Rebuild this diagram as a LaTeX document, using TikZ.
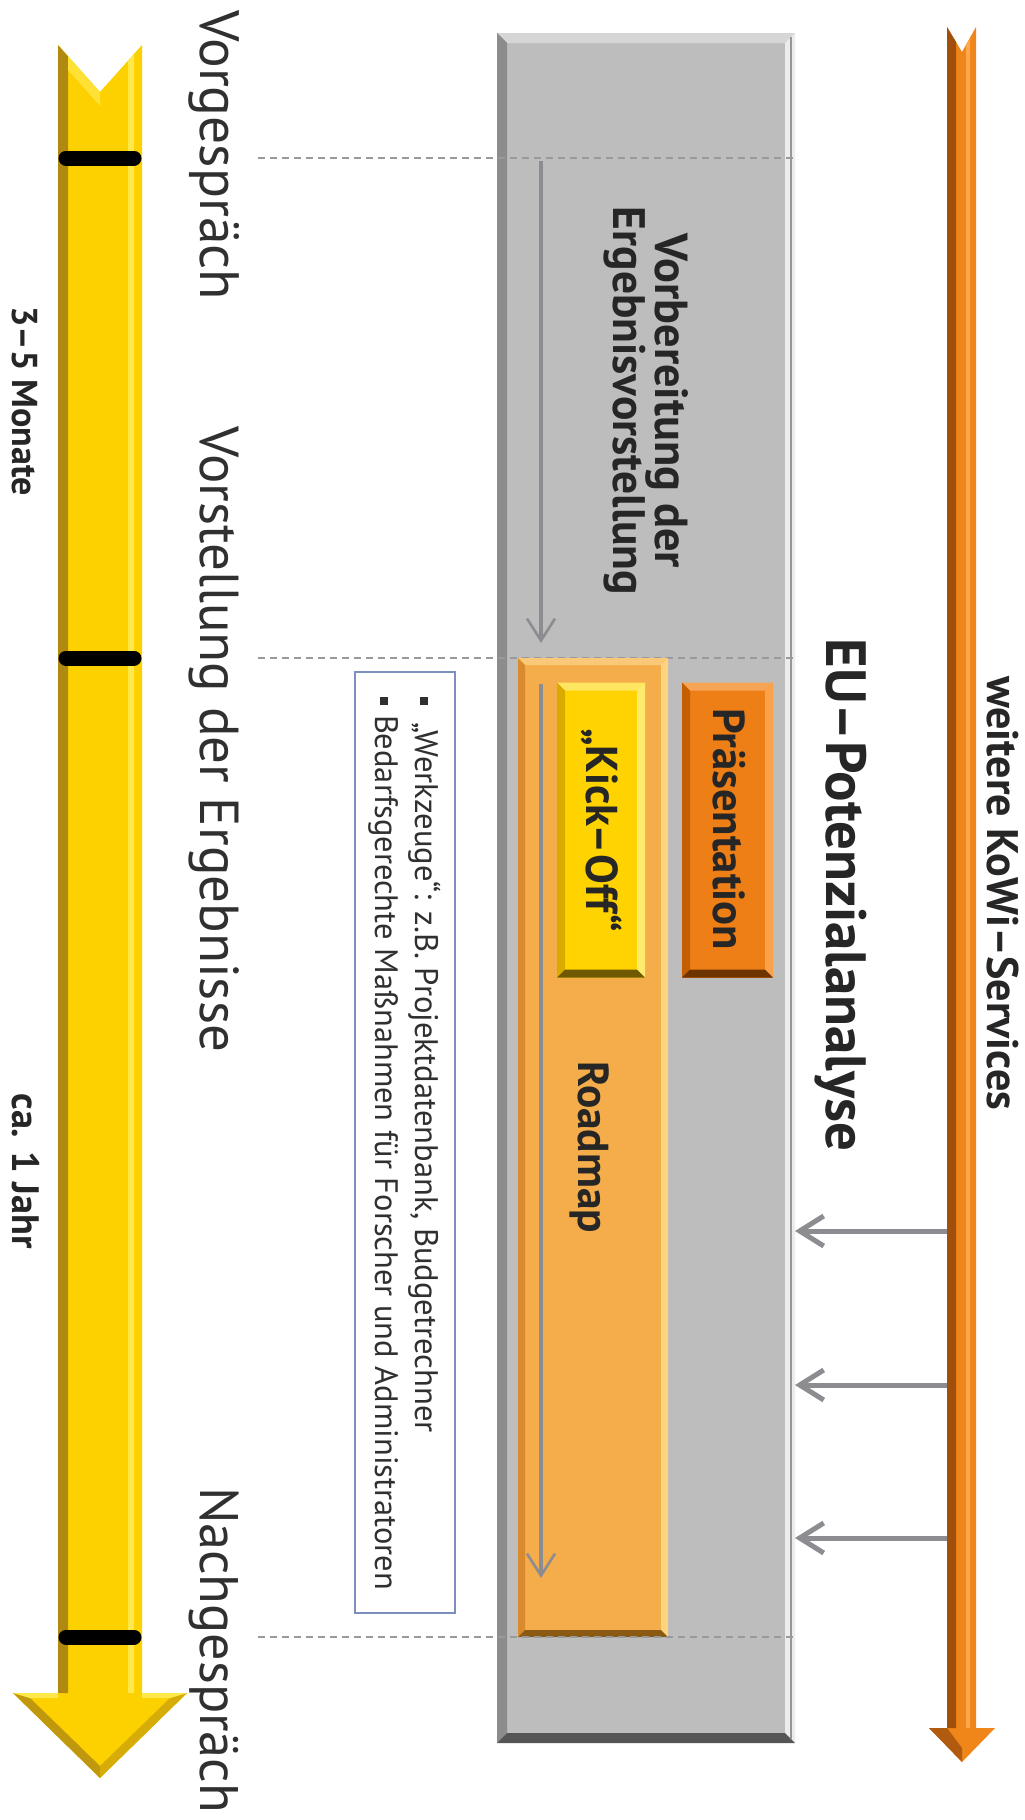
\documentclass[tikz,border=0pt]{standalone}
\usepackage{fontspec}
\setmainfont{PT Sans}
\usetikzlibrary{arrows.meta,calc}
\definecolor{txt}{HTML}{303030}
\definecolor{btxt}{HTML}{262626}
\definecolor{yMain}{HTML}{FDD000}
\definecolor{yDark}{HTML}{B08A10}
\definecolor{yLight}{HTML}{FFE84A}
\definecolor{oMain}{HTML}{F08519}
\definecolor{oDark}{HTML}{A0500C}
\definecolor{oLight}{HTML}{FFA84C}
\definecolor{gFill}{HTML}{BDBDBD}
\definecolor{gTop}{HTML}{D6D6D6}
\definecolor{gLeft}{HTML}{8C8C8C}
\definecolor{gRight}{HTML}{ECECEC}
\definecolor{gBot}{HTML}{555555}
\definecolor{rFill}{HTML}{F5AD4B}
\definecolor{rTop}{HTML}{F9C878}
\definecolor{rLeft}{HTML}{D88A2C}
\definecolor{rRight}{HTML}{FFD47E}
\definecolor{rBot}{HTML}{8A5A12}
\definecolor{kFill}{HTML}{FFD300}
\definecolor{kTop}{HTML}{FFE660}
\definecolor{kLeft}{HTML}{D9AA00}
\definecolor{kRight}{HTML}{FFEA70}
\definecolor{kBot}{HTML}{6E5800}
\definecolor{pFill}{HTML}{EE7E16}
\definecolor{pTop}{HTML}{F6A456}
\definecolor{pLeft}{HTML}{C45E00}
\definecolor{pRight}{HTML}{F9A24A}
\definecolor{pBot}{HTML}{6E3400}
\definecolor{arrGrey}{HTML}{8C8C91}
\definecolor{dashGrey}{HTML}{9A9A9A}
\definecolor{infoBorder}{HTML}{7C8FBF}
\newcommand\bevelit[6]{%
  \fill[#3] (#1.north west) -- (#1.north east) -- ($(#1.north east)+(-#2,#2)$) -- ($(#1.north west)+(#2,#2)$) -- cycle;
  \fill[#4] (#1.north west) -- ($(#1.north west)+(#2,#2)$) -- ($(#1.south west)+(#2,-#2)$) -- (#1.south west) -- cycle;
  \fill[#5] (#1.north east) -- ($(#1.north east)+(-#2,#2)$) -- ($(#1.south east)+(-#2,-#2)$) -- (#1.south east) -- cycle;
  \fill[#6] (#1.south west) -- ($(#1.south west)+(#2,-#2)$) -- ($(#1.south east)+(-#2,-#2)$) -- (#1.south east) -- cycle;
}
\newcommand\fitto[2]{\resizebox{#1pt}{!}{#2}}
\begin{document}
\begin{tikzpicture}[x=1pt,y=-1pt,
  boxnode/.style={rectangle, inner sep=0pt, outer sep=0pt, draw=none},
  rottxt/.style={rotate=-90, inner sep=0pt, outer sep=0pt},
  tlabel/.style={rottxt, text=txt, font=\fontsize{55}{62}\selectfont},
  boldtxt/.style={rottxt, text=btxt, font=\bfseries\fontsize{40}{46}\selectfont, anchor=base},
  infotxt/.style={rottxt, text=txt, font=\fontsize{31}{36}\selectfont, anchor=base west},
  bulletsq/.style={rectangle, fill=txt, minimum size=8pt, inner sep=0pt},
  guide/.style={dashGrey, line width=1.6pt, dash pattern=on 7pt off 5pt},
  flowarrow/.style={arrGrey, line width=3.5pt, -{Straight Barb[length=22pt,width=28pt,line width=2.6pt]}},
  servarrow/.style={arrGrey, line width=5pt, -{Straight Barb[length=24pt,width=30pt,line width=5pt]}},
  tick/.style={black, line width=15pt, line cap=round}
]
\useasboundingbox (0,0) rectangle (1025,1820);
\fill[white] (0,0) rectangle (1025,1820);

% ---------- yellow timeline arrow ----------
\fill[yMain] (58,45) -- (100,92) -- (142,45) -- (142,1693) -- (187,1693) -- (100,1778) -- (13,1693) -- (58,1693) -- cycle;
\fill[yDark] (58,45) -- (68,56) -- (68,1693) -- (58,1693) -- cycle;
\fill[yLight] (128,61) -- (134,54) -- (134,1693) -- (128,1693) -- cycle;
\fill[yLight!70!yMain] (58,45) -- (100,92) -- (100,106) -- (68,70) -- (68,56) -- cycle;
\fill[yDark!80!yMain] (13,1693) -- (30,1698) -- (100,1766) -- (100,1778) -- cycle;
\fill[yDark!50!yMain] (187,1693) -- (170,1698) -- (100,1766) -- (100,1778) -- cycle;
\fill[yLight] (13,1693) -- (58,1693) -- (58,1698) -- (30,1698) -- cycle;
\fill[yLight] (142,1693) -- (187,1693) -- (170,1698) -- (142,1698) -- cycle;
\draw[tick] (66,158) -- (134,158);
\draw[tick] (66,658) -- (134,658);
\draw[tick] (66,1637) -- (134,1637);

% ---------- timeline labels ----------
\node[tlabel, anchor=base west] (vorg) at (200,10) {\fitto{290}{Vorgespräch}};
\node[tlabel, anchor=base west] (vorst) at (200,426) {\fitto{626}{Vorstellung der Ergebnisse}};
\node[tlabel, anchor=base east] (nachg) at (200,1813) {\fitto{326}{Nachgespräch}};
\node[boldtxt] (dur1) at (12,401) {\fitto{190}{3–5 Monate}};
\node[boldtxt] (dur2) at (12,1171) {\fitto{155}{ca. 1 Jahr}};

% ---------- grey box ----------
\node[boxnode, fill=gFill, minimum width=298pt, minimum height=1710pt] (grey) at (646,888) {};
\bevelit{grey}{10}{gTop}{gLeft}{gRight}{gBot}
\draw[gLeft!80!gFill, line width=2pt] ($(grey.north east)+(-4,4)$) -- ($(grey.south east)+(-4,-4)$);

% ---------- dashed guide lines ----------
\coordinate (d1a) at (258,158); \coordinate (d1b) at (795,158);
\coordinate (d2a) at (258,658); \coordinate (d2b) at (795,658);
\coordinate (d3a) at (258,1637); \coordinate (d3b) at (795,1637);
\draw[guide] (d1a) -- (d1b);
\draw[guide] (d2a) -- (d2b);

% ---------- roadmap box ----------
\node[boxnode, fill=rFill, minimum width=150pt, minimum height=979pt] (road) at (593,1147.5) {};
\bevelit{road}{7}{rTop}{rLeft}{rRight}{rBot}
\draw[guide] (d3a) -- (d3b);

% ---------- Kick-Off and Praesentation ----------
\node[boxnode, fill=kFill, minimum width=88pt, minimum height=295pt] (kick) at (601,830) {};
\bevelit{kick}{8}{kTop}{kLeft}{kRight}{kBot}
\node[boxnode, fill=pFill, minimum width=91pt, minimum height=295pt] (pres) at (727.5,830) {};
\bevelit{pres}{8}{pTop}{pLeft}{pRight}{pBot}
\node[boldtxt] (kicktxt) at (586,830) {\fitto{204}{„Kick–Off“}};
\node[boldtxt] (prestxt) at (713,829) {\fitto{242}{Präsentation}};
\node[boldtxt] (roadtxt) at (578,1147) {\fitto{172}{Roadmap}};

% ---------- flow arrows in grey box ----------
\coordinate (va) at (541,161); \coordinate (vb) at (541,643);
\draw[flowarrow] (va) -- (vb);
\coordinate (ra) at (541,684); \coordinate (rb) at (541,1578);
\draw[flowarrow] (ra) -- (rb);
\node[boldtxt] (vbtxt1) at (655,401) {\fitto{334}{Vorbereitung der}};
\node[boldtxt] (vbtxt2) at (613,401) {\fitto{388}{Ergebnisvorstellung}};

% ---------- titles ----------
\node[boldtxt] (eu) at (826,895) {\fitto{513}{EU–Potenzialanalyse}};
\node[boldtxt] (kowi) at (987,893) {\fitto{434}{weitere KoWi–Services}};

% ---------- info box ----------
\node[boxnode, draw=infoBorder, line width=1.5pt, fill=white, minimum width=100pt, minimum height=941pt] (info) at (405,1142.5) {};
\node[bulletsq] (bul1) at (424,701) {};
\node[bulletsq] (bul2) at (384,701) {};
\node[infotxt] (info1) at (415,722) {\fitto{711}{„Werkzeuge“: z.B. Projektdatenbank, Budgetrechner}};
\node[infotxt] (info2) at (375,715) {\fitto{875}{Bedarfsgerechte Maßnahmen für Forscher und Administratoren}};

% ---------- orange services arrow ----------
\fill[oMain] (947,27) -- (962,52) -- (976,27) -- (976,1728) -- (995,1728) -- (962,1762) -- (929,1728) -- (947,1728) -- cycle;
\fill[oDark] (947,27) -- (956,42) -- (956,1728) -- (947,1728) -- cycle;
\fill[oLight] (966,45) -- (970,38) -- (970,1728) -- (966,1728) -- cycle;
\fill[oDark!80!oMain] (929,1728) -- (947,1728) -- (962,1748) -- (962,1762) -- cycle;
\coordinate (s1) at (947,1231);
\coordinate (s2) at (947,1385);
\coordinate (s3) at (947,1538);
\draw[servarrow] (s1) -- (grey.east |- s1);
\draw[servarrow] (s2) -- (grey.east |- s2);
\draw[servarrow] (s3) -- (grey.east |- s3);
\end{tikzpicture}
\end{document}
